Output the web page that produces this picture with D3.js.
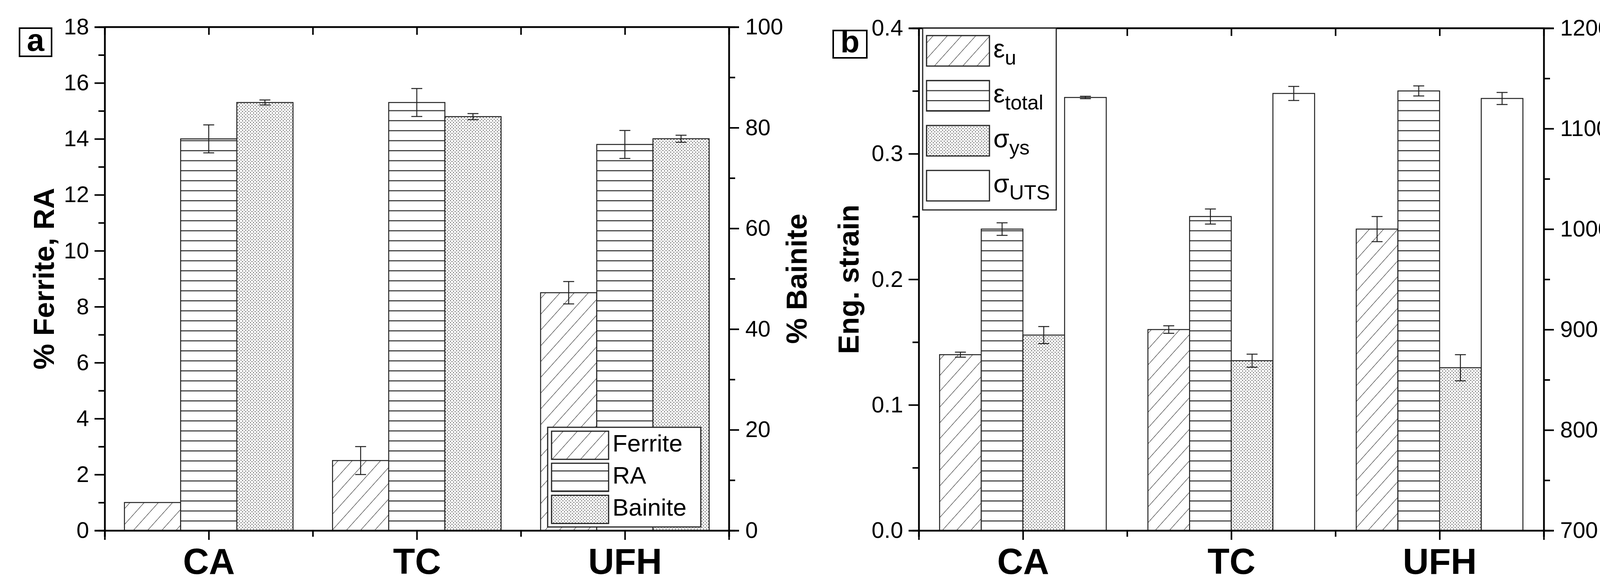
<!DOCTYPE html>
<html>
<head>
<meta charset="utf-8">
<script src="https://cdn.jsdelivr.net/npm/d3@7"></script>
<style>
  body { margin: 0; background: #fff; }
  text { font-family: 'Liberation Sans Narrow', 'Liberation Sans', Arial, sans-serif; fill: #000; }
  .bold { font-family: 'Liberation Sans', Arial, sans-serif; font-weight: bold; }
</style>
</head>
<body>
<div id="chart"></div>
<script>
// Data
const categories = ['CA', 'TC', 'UFH'];

// Panel a
const ferrite = [1.0, 2.5, 8.5];
const ferriteErr = [0, 0.5, 0.4];
const ra = [14.0, 15.3, 13.8];
const raErr = [0.5, 0.5, 0.5];
const bainite = [85.0, 82.2, 77.8];
const bainiteErr = [0.5, 0.6, 0.7];

// Panel b
const epsU = [0.14, 0.16, 0.24];
const epsUErr = [0.002, 0.003, 0.01];
const epsTotal = [0.24, 0.25, 0.35];
const epsTotalErr = [0.005, 0.006, 0.004];
const sigmaYs = [894.5, 869, 862];
const sigmaYsErr = [8.5, 6.5, 13];
const sigmaUts = [1131, 1135, 1130];
const sigmaUtsErr = [1.2, 7, 6];

const W = 4239, H = 1499;
const svg = d3.select('#chart').append('svg').attr('width', W).attr('height', H);

// Patterns
const defs = svg.append('defs');
const hatch = defs.append('pattern').attr('id', 'hatch').attr('patternUnits', 'userSpaceOnUse')
  .attr('width', 27).attr('height', 27).attr('patternTransform', 'rotate(42)');
hatch.append('rect').attr('width', 27).attr('height', 27).attr('fill', '#fff');
hatch.append('line').attr('x1', 0).attr('y1', 0).attr('x2', 0).attr('y2', 27)
  .attr('stroke', '#222').attr('stroke-width', 2.2);

const horiz = defs.append('pattern').attr('id', 'horiz').attr('patternUnits', 'userSpaceOnUse')
  .attr('width', 40).attr('height', 25.6);
horiz.append('rect').attr('width', 40).attr('height', 25.6).attr('fill', '#fff');
horiz.append('line').attr('x1', 0).attr('y1', 1.5).attr('x2', 40).attr('y2', 1.5)
  .attr('stroke', '#222').attr('stroke-width', 2.6);

const dots = defs.append('pattern').attr('id', 'dots').attr('patternUnits', 'userSpaceOnUse')
  .attr('width', 8).attr('height', 8);
dots.append('rect').attr('width', 8).attr('height', 8).attr('fill', '#fff');
dots.append('rect').attr('x', 0).attr('y', 0).attr('width', 2.2).attr('height', 2.2).attr('fill', '#444');
dots.append('rect').attr('x', 4).attr('y', 4).attr('width', 2.2).attr('height', 2.2).attr('fill', '#444');

const fills = { hatch: 'url(#hatch)', horiz: 'url(#horiz)', dots: 'url(#dots)', blank: '#fff' };

function drawPanel(cfg) {
  const g = svg.append('g');
  const { left, right, top, bottom } = cfg;
  const x = d3.scaleLinear().domain([0.5, 3.5]).range([left, right]);
  const yL = d3.scaleLinear().domain(cfg.yLeft).range([bottom, top]);
  const yR = d3.scaleLinear().domain(cfg.yRight).range([bottom, top]);
  const step = x(2) - x(1);
  const bw = step * cfg.barFrac;
  const n = cfg.series.length;

  // Bars
  cfg.series.forEach((s, si) => {
    const y = s.axis === 'right' ? yR : yL;
    const offset = (si - (n - 1) / 2) * bw;
    categories.forEach((c, i) => {
      const cx = x(i + 1) + offset;
      g.append('rect')
        .attr('x', cx - bw / 2).attr('y', y(s.values[i]))
        .attr('width', bw).attr('height', bottom - y(s.values[i]))
        .attr('fill', fills[s.fill]).attr('stroke', '#222').attr('stroke-width', 2.5);
      if (s.err[i] > 0) {
        const e = s.err[i];
        const cap = 14;
        g.append('line').attr('x1', cx).attr('x2', cx)
          .attr('y1', y(s.values[i] + e)).attr('y2', y(s.values[i] - e))
          .attr('stroke', '#222').attr('stroke-width', 2.5);
        [s.values[i] + e, s.values[i] - e].forEach(v => {
          g.append('line').attr('x1', cx - cap).attr('x2', cx + cap)
            .attr('y1', y(v)).attr('y2', y(v)).attr('stroke', '#222').attr('stroke-width', 2.5);
        });
      }
    });
  });

  // Frame lines
  g.append('line').attr('x1', left).attr('x2', right).attr('y1', top).attr('y2', top)
    .attr('stroke', '#000').attr('stroke-width', 4);

  // Axes
  const tickFont = '58px';
  const axL = g.append('g').attr('transform', `translate(${left},0)`)
    .call(d3.axisLeft(yL).tickValues(cfg.leftTicks).tickFormat(cfg.leftFmt).tickSize(26).tickPadding(14));
  const axLm = g.append('g').attr('transform', `translate(${left},0)`)
    .call(d3.axisLeft(yL).tickValues(cfg.leftMinor).tickFormat('').tickSize(16));
  const axR = g.append('g').attr('transform', `translate(${right},0)`)
    .call(d3.axisRight(yR).tickValues(cfg.rightTicks).tickFormat(d3.format('d')).tickSize(26).tickPadding(16));
  const axRm = g.append('g').attr('transform', `translate(${right},0)`)
    .call(d3.axisRight(yR).tickValues(cfg.rightMinor).tickFormat('').tickSize(16));
  const axB = g.append('g').attr('transform', `translate(0,${bottom})`)
    .call(d3.axisBottom(x).tickValues([1, 2, 3]).tickFormat(i => categories[i - 1]).tickSize(24).tickPadding(22));
  const axBm = g.append('g').attr('transform', `translate(0,${bottom})`)
    .call(d3.axisBottom(x).tickValues([0.5, 1.5, 2.5, 3.5]).tickFormat('').tickSize(16));
  const axT = g.append('g').attr('transform', `translate(0,${top})`)
    .call(d3.axisBottom(x).tickValues([1, 1.5, 2, 2.5, 3]).tickFormat('').tickSize(20));

  [axL, axLm, axR, axRm, axB, axBm, axT].forEach(a => {
    a.select('.domain').attr('stroke', '#000').attr('stroke-width', 4);
    a.selectAll('.tick line').attr('stroke', '#000').attr('stroke-width', 4);
  });
  [axL, axR].forEach(a => a.selectAll('text').style('font-size', tickFont));
  axB.selectAll('text').attr('class', 'bold').style('font-size', '92px');

  // Axis titles
  g.append('text').attr('class', 'bold').attr('text-anchor', 'middle')
    .attr('transform', `translate(${cfg.leftTitleX},${(top + bottom) / 2}) rotate(-90)`)
    .style('font-size', '74px').text(cfg.leftTitle);
  g.append('text').attr('class', 'bold').attr('text-anchor', 'middle')
    .attr('transform', `translate(${cfg.rightTitleX},${(top + bottom) / 2}) rotate(-90)`)
    .style('font-size', '74px').text(cfg.rightTitle);

  // Panel letter
  g.append('rect').attr('x', cfg.letterBox[0]).attr('y', cfg.letterBox[1])
    .attr('width', cfg.letterBox[2]).attr('height', cfg.letterBox[3])
    .attr('fill', '#fff').attr('stroke', '#000').attr('stroke-width', 4);
  g.append('text').attr('class', 'bold').attr('text-anchor', 'middle')
    .attr('x', cfg.letterBox[0] + cfg.letterBox[2] / 2).attr('y', cfg.letterBox[1] + cfg.letterBox[3] - 14)
    .style('font-size', '80px').text(cfg.letter);

  // Legend
  const lg = cfg.legend;
  g.append('rect').attr('x', lg.x).attr('y', lg.y).attr('width', lg.w).attr('height', lg.h)
    .attr('fill', '#fff').attr('stroke', '#222').attr('stroke-width', 3);
  cfg.series.forEach((s, si) => {
    const ry = lg.y + lg.pad + si * lg.row;
    g.append('rect').attr('x', lg.x + 10).attr('y', ry).attr('width', lg.sw).attr('height', lg.sh)
      .attr('fill', fills[s.fill]).attr('stroke', '#222').attr('stroke-width', 3);
    const t = g.append('text').attr('x', lg.x + 20 + lg.sw).attr('y', ry + lg.sh * 0.72)
      .style('font-size', lg.font);
    t.append('tspan').text(s.name);
    if (s.sub) {
      t.append('tspan').attr('dy', 18).style('font-size', '52px').text(s.sub);
    }
  });
}

drawPanel({
  left: 268, right: 1866, top: 69, bottom: 1357,
  yLeft: [0, 18], yRight: [0, 100], barFrac: 0.27,
  leftTicks: d3.range(0, 19, 2), leftMinor: d3.range(1, 18, 2), leftFmt: d3.format('d'),
  rightTicks: d3.range(0, 101, 20), rightMinor: d3.range(10, 100, 20),
  leftTitle: '% Ferrite, RA', rightTitle: '% Bainite', leftTitleX: 138, rightTitleX: 2065,
  letter: 'a', letterBox: [50, 72, 82, 72],
  series: [
    { name: 'Ferrite', values: ferrite, err: ferriteErr, fill: 'hatch', axis: 'left' },
    { name: 'RA', values: ra, err: raErr, fill: 'horiz', axis: 'left' },
    { name: 'Bainite', values: bainite, err: bainiteErr, fill: 'dots', axis: 'right' }
  ],
  legend: { x: 1402, y: 1093, w: 392, h: 255, pad: 10, row: 82, sw: 146, sh: 72, font: '62px' }
});

drawPanel({
  left: 2352, right: 3952, top: 72, bottom: 1357,
  yLeft: [0, 0.4], yRight: [700, 1200], barFrac: 0.2,
  leftTicks: [0, 0.1, 0.2, 0.3, 0.4], leftMinor: [0.05, 0.15, 0.25, 0.35], leftFmt: d3.format('.1f'),
  rightTicks: d3.range(700, 1201, 100), rightMinor: d3.range(750, 1200, 100),
  leftTitle: 'Eng. strain', rightTitle: 'Eng. stress (MPa)', leftTitleX: 2198, rightTitleX: 4185,
  letter: 'b', letterBox: [2133, 78, 86, 70],
  series: [
    { name: 'ε', sub: 'u', values: epsU, err: epsUErr, fill: 'hatch', axis: 'left' },
    { name: 'ε', sub: 'total', values: epsTotal, err: epsTotalErr, fill: 'horiz', axis: 'left' },
    { name: 'σ', sub: 'ys', values: sigmaYs, err: sigmaYsErr, fill: 'dots', axis: 'right' },
    { name: 'σ', sub: 'UTS', values: sigmaUts, err: sigmaUtsErr, fill: 'blank', axis: 'right' }
  ],
  legend: { x: 2362, y: 72, w: 342, h: 465, pad: 19, row: 115, sw: 161, sh: 78, font: '66px' }
});
</script>
</body>
</html>
